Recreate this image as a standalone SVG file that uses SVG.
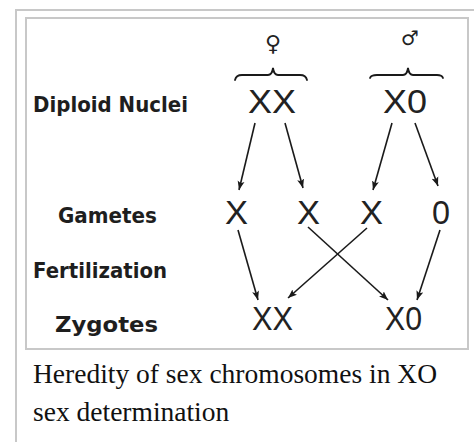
<svg xmlns="http://www.w3.org/2000/svg" width="474" height="442" viewBox="0 0 474 442">
<style>
.frame{fill:none;stroke:#c8c8c8;stroke-width:2}
.lbl{font-family:"DejaVu Sans",sans-serif;font-weight:bold;font-size:21px;fill:#1e1e1e}
.chr{font-family:"Liberation Sans",sans-serif;font-size:33px;fill:#222}
.sym{font-family:"DejaVu Sans",sans-serif;fill:#222;text-anchor:middle}
.cap{font-family:"Liberation Serif","Times New Roman",serif;font-size:27.5px;fill:#111}
.ln{stroke:#1a1a1a;stroke-width:1.6;fill:none}
.br{stroke:#1a1a1a;stroke-width:1.8;fill:none;stroke-linecap:round}
</style>
<defs>
<marker id="ah" markerWidth="10" markerHeight="8" refX="9" refY="4" orient="auto" markerUnits="userSpaceOnUse">
<path d="M0,0.5 L9,4 L0,7.5 L2,4 z" fill="#1a1a1a"/>
</marker>
</defs>
<rect width="474" height="442" fill="#fff"/>
<rect class="frame" x="16" y="10" width="470" height="440"/>
<rect class="frame" x="26" y="18" width="442" height="331"/>

<g id="labels">
<text id="lbl-diploid" class="lbl" x="33" y="112" textLength="155" lengthAdjust="spacingAndGlyphs">Diploid Nuclei</text>
<text id="lbl-gametes" class="lbl" x="58" y="223" textLength="99" lengthAdjust="spacingAndGlyphs">Gametes</text>
<text id="lbl-fert" class="lbl" x="33" y="278" textLength="134" lengthAdjust="spacingAndGlyphs">Fertilization</text>
<text id="lbl-zyg" class="lbl" x="55" y="332" textLength="103" lengthAdjust="spacingAndGlyphs">Zygotes</text>
</g>

<g id="female-parent">
<text class="sym" x="273" y="51" font-size="22">♀</text>
<path class="br" d="M235,80 Q236,75 242,75 L268,75 Q272,75 273,68 Q274,75 278,75 L300,75 Q306,75 307,80"/>
<text class="chr" x="248" y="113" textLength="48" lengthAdjust="spacingAndGlyphs" font-size="29">XX</text>
</g>
<g id="male-parent">
<text class="sym" x="410" y="45" font-size="20">♂</text>
<path class="br" d="M370,78 Q371,75 377,75 L403,75 Q407,75 408,68 Q409,75 413,75 L437,75 Q442,75 443,78"/>
<text class="chr" x="383" y="113" textLength="44" lengthAdjust="spacingAndGlyphs" font-size="29">X0</text>
</g>

<g id="gamete-x1"><text class="chr" x="225" y="224" textLength="23" lengthAdjust="spacingAndGlyphs">X</text></g>
<g id="gamete-x2"><text class="chr" x="297" y="224" textLength="23" lengthAdjust="spacingAndGlyphs">X</text></g>
<g id="gamete-x3"><text class="chr" x="360" y="224" textLength="23" lengthAdjust="spacingAndGlyphs">X</text></g>
<g id="gamete-o"><text class="chr" x="432" y="224" textLength="18" lengthAdjust="spacingAndGlyphs">0</text></g>

<g id="zygote-xx"><text class="chr" x="252" y="330" textLength="41" lengthAdjust="spacingAndGlyphs" font-size="28">XX</text></g>
<g id="zygote-xo"><text class="chr" x="385" y="330" textLength="37" lengthAdjust="spacingAndGlyphs" font-size="28">X0</text></g>

<g id="connectors">
<line class="ln" x1="255" y1="123" x2="239" y2="190" marker-end="url(#ah)"/>
<line class="ln" x1="285" y1="123" x2="303" y2="188" marker-end="url(#ah)"/>
<line class="ln" x1="392" y1="123" x2="373" y2="190" marker-end="url(#ah)"/>
<line class="ln" x1="415" y1="123" x2="438" y2="186" marker-end="url(#ah)"/>
<line class="ln" x1="238" y1="230" x2="258" y2="300" marker-end="url(#ah)"/>
<line class="ln" x1="308" y1="227" x2="388" y2="300" marker-end="url(#ah)"/>
<line class="ln" x1="367" y1="228" x2="288" y2="298" marker-end="url(#ah)"/>
<line class="ln" x1="440" y1="230" x2="417" y2="300" marker-end="url(#ah)"/>
</g>

<g id="caption">
<text class="cap" x="33" y="383">Heredity of sex chromosomes in XO</text>
<text class="cap" x="33" y="421">sex determination</text>
</g>
</svg>
